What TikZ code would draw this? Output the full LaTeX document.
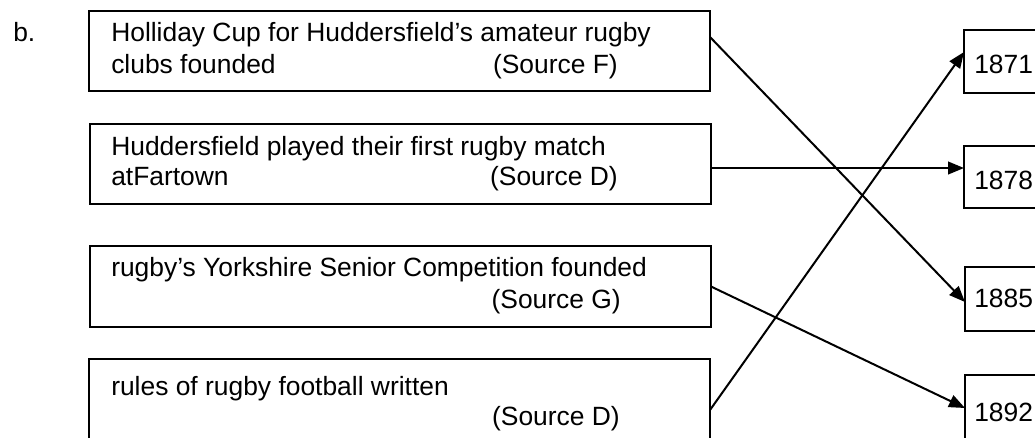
\documentclass[tikz,border=0pt]{standalone}
\usepackage{fontspec}
\setmainfont{Liberation Sans}
\usetikzlibrary{arrows.meta,calc}
\tikzset{
  box/.style={draw=black, line width=1.2pt, anchor=north west, inner sep=0pt, outer sep=0pt, minimum width=465.75pt},
  yearbox/.style={draw=black, line width=1.2pt, anchor=north west, inner sep=0pt, outer sep=0pt, minimum width=75pt},
  txt/.style={anchor=base west, inner sep=0pt, font=\fontsize{19.8}{24}\selectfont},
  srctxt/.style={anchor=base east, inner sep=0pt, font=\fontsize{19.8}{24}\selectfont},
  arr/.style={line width=1.5pt, -{Triangle[length=12pt,width=9.5pt]}}
}
\begin{document}
\begin{tikzpicture}[x=0.75pt,y=-0.75pt]
\useasboundingbox (0,0) rectangle (1035,437);
\clip (0,0) rectangle (1035,437);
% left boxes
\node[box, minimum height=60pt] (b1) at (89,11) {};
\node[box, minimum height=60pt] (b2) at (90,124) {};
\node[box, minimum height=60.75pt] (b3) at (90,246) {};
\node[box, minimum height=75pt] (b4) at (89,359) {};
% right boxes
\node[yearbox, minimum height=47.25pt] (r1) at (964,30) {};
\node[yearbox, minimum height=46.5pt] (r2) at (964,146) {};
\node[yearbox, minimum height=48pt] (r3) at (965,267) {};
\node[yearbox, minimum height=60pt] (r4) at (965,375) {};
% label
\node[txt] (lb) at (13,41) {b.};
% texts
\node[txt] (t1a) at (111,41) {Holliday Cup for Huddersfield’s amateur rugby};
\node[txt] (t1b) at (111,73) {clubs founded};
\node[srctxt] (s1) at (618,73) {(Source F)};
\node[txt] (t2a) at (111,155) {Huddersfield played their first rugby match};
\node[txt] (t2b) at (111,185) {atFartown};
\node[srctxt] (s2) at (618,185) {(Source D)};
\node[txt] (t3a) at (111,276) {rugby’s Yorkshire Senior Competition founded};
\node[srctxt] (s3) at (621,308) {(Source G)};
\node[txt] (t4a) at (111,395) {rules of rugby football written};
\node[srctxt] (s4) at (620,425) {(Source D)};
% years
\node[txt] (y1) at (974,73) {1871};
\node[txt] (y2) at (974,189) {1878};
\node[txt] (y3) at (974,307) {1885};
\node[txt] (y4) at (974,421) {1892};
% connectors
\draw[arr] ($(b1.north east)+(0,26)$) -- ($(r3.north west)+(0,35)$);
\draw[arr] ($(b2.north east)+(0,44)$) -- ($(r2.north west)+(0,22)$);
\draw[arr] (b3.east) -- ($(r4.north west)+(0,33)$);
\draw[arr] ($(b4.north east)+(0,51)$) -- ($(r1.north west)+(0,22)$);
\end{tikzpicture}
\end{document}
